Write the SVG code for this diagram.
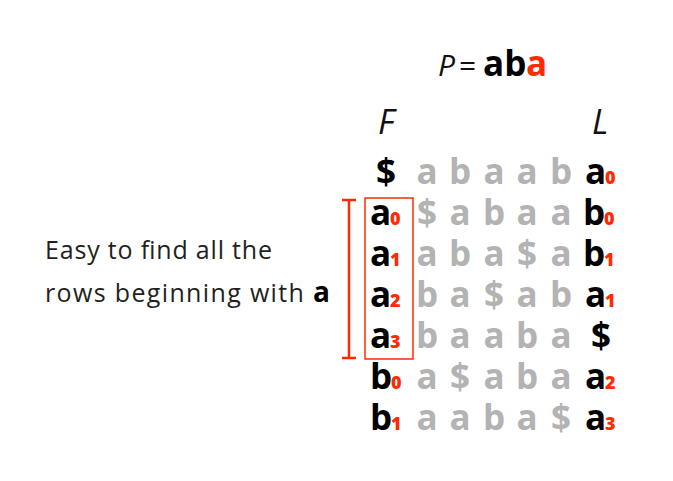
<svg xmlns="http://www.w3.org/2000/svg" width="673" height="481" viewBox="0 0 673 481">
<style>
text{font-family:"Open Sans","Noto Sans","DejaVu Sans",sans-serif}
.k{font-weight:700;font-size:35px;fill:#000}
.g{font-weight:700;font-size:35px;fill:#b3b3b3;text-anchor:middle}
.s{font-weight:800;font-size:18px;fill:#ff2a00}
.r{fill:#ff2a00}
.it{font-style:italic;font-size:34px;fill:#111}
.lbl{font-size:25px;fill:#231f20}
</style>
<rect width="673" height="481" fill="#fff"/>
<g id="title">
<text x="438" y="76" class="it" style="font-size:30px">P</text>
<text x="459" y="76" style="font-size:30px;fill:#111">=</text>
<text x="483" y="76" class="k">ab</text>
<text x="526" y="76" class="k r">a</text>
</g>
<g id="headers">
<text x="378" y="134" class="it">F</text>
<text x="592" y="134" class="it">L</text>
</g>
<g id="row0">
<text x="386" y="184" class="k" text-anchor="middle">$</text>
<text x="427" y="184" class="g">a</text><text x="460" y="184" class="g">b</text><text x="494" y="184" class="g">a</text><text x="527" y="184" class="g">a</text><text x="561" y="184" class="g">b</text>
<text x="585" y="184" class="k">a<tspan x="605" class="s">0</tspan></text>
</g>
<g id="row1">
<text x="370" y="225" class="k">a<tspan x="390" class="s">0</tspan></text>
<text x="427" y="225" class="g">$</text><text x="460" y="225" class="g">a</text><text x="494" y="225" class="g">b</text><text x="527" y="225" class="g">a</text><text x="561" y="225" class="g">a</text>
<text x="583" y="225" class="k">b<tspan x="604" class="s">0</tspan></text>
</g>
<g id="row2">
<text x="370" y="266" class="k">a<tspan x="390" class="s">1</tspan></text>
<text x="427" y="266" class="g">a</text><text x="460" y="266" class="g">b</text><text x="494" y="266" class="g">a</text><text x="527" y="266" class="g">$</text><text x="561" y="266" class="g">a</text>
<text x="583" y="266" class="k">b<tspan x="604" class="s">1</tspan></text>
</g>
<g id="row3">
<text x="370" y="307" class="k">a<tspan x="390" class="s">2</tspan></text>
<text x="427" y="307" class="g">b</text><text x="460" y="307" class="g">a</text><text x="494" y="307" class="g">$</text><text x="527" y="307" class="g">a</text><text x="561" y="307" class="g">b</text>
<text x="585" y="307" class="k">a<tspan x="605" class="s">1</tspan></text>
</g>
<g id="row4">
<text x="370" y="348" class="k">a<tspan x="390" class="s">3</tspan></text>
<text x="427" y="348" class="g">b</text><text x="460" y="348" class="g">a</text><text x="494" y="348" class="g">a</text><text x="527" y="348" class="g">b</text><text x="561" y="348" class="g">a</text>
<text x="601" y="348" class="k" text-anchor="middle">$</text>
</g>
<g id="row5">
<text x="370" y="389" class="k">b<tspan x="391" class="s">0</tspan></text>
<text x="427" y="389" class="g">a</text><text x="460" y="389" class="g">$</text><text x="494" y="389" class="g">a</text><text x="527" y="389" class="g">b</text><text x="561" y="389" class="g">a</text>
<text x="585" y="389" class="k">a<tspan x="605" class="s">2</tspan></text>
</g>
<g id="row6">
<text x="370" y="430" class="k">b<tspan x="391" class="s">1</tspan></text>
<text x="427" y="430" class="g">a</text><text x="460" y="430" class="g">a</text><text x="494" y="430" class="g">b</text><text x="527" y="430" class="g">a</text><text x="561" y="430" class="g">$</text>
<text x="585" y="430" class="k">a<tspan x="605" class="s">3</tspan></text>
</g>
<g id="box">
<rect x="365" y="198" width="48" height="161" fill="none" stroke="#ff2a00" stroke-width="1.5"/>
</g>
<g id="bracket" fill="none" stroke="#ff2a00" stroke-width="2.5">
<path d="M342 200H356M349 200V358M342 358H356"/>
</g>
<g id="label">
<text x="45" y="259" class="lbl" textLength="227" lengthAdjust="spacing">Easy to find all the</text>
<text x="45" y="302" class="lbl" textLength="285" lengthAdjust="spacing">rows beginning with <tspan font-weight="700" fill="#000" font-size="28">a</tspan></text>
</g>
</svg>
